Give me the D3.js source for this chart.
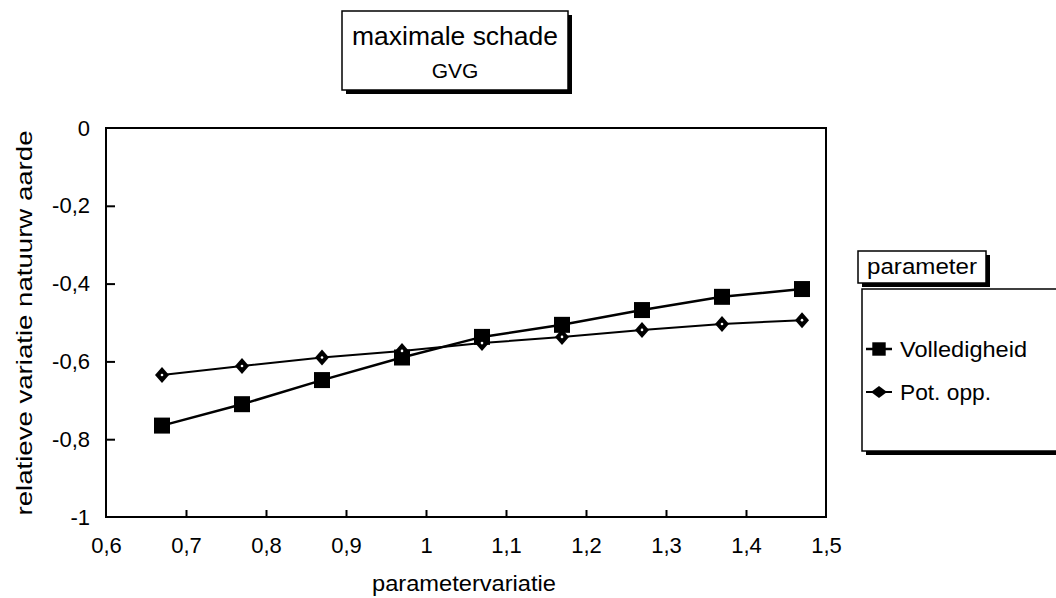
<!DOCTYPE html>
<html><head><meta charset="utf-8">
<script src="https://cdn.jsdelivr.net/npm/d3@7"></script>
<style>body{margin:0;background:#fff;} svg{display:block;font-family:"Liberation Sans",Arial,sans-serif;}</style>
</head><body>
<svg id="c" width="1056" height="598"></svg>
<script>
const xValues = [0.67, 0.77, 0.87, 0.97, 1.07, 1.17, 1.27, 1.37, 1.47];
const volledigheid = [-0.765, -0.71, -0.648, -0.59, -0.537, -0.506, -0.468, -0.434, -0.414];
const potOpp = [-0.635, -0.612, -0.59, -0.573, -0.553, -0.537, -0.519, -0.504, -0.494];
const xTicks = [0.6, 0.7, 0.8, 0.9, 1.0, 1.1, 1.2, 1.3, 1.4, 1.5];
const yTicks = [0, -0.2, -0.4, -0.6, -0.8, -1];
const seriesNames = ["Volledigheid", "Pot. opp."];

const svg = d3.select("#c");
const L = 106, R = 826, T = 128, B = 517;
const x = d3.scaleLinear().domain([0.6, 1.5]).range([L, R]);
const y = d3.scaleLinear().domain([-1, 0]).range([B, T]);
const fmt = d => String(+d.toFixed(1)).replace(".", ",");

// frame
svg.append("rect").attr("x", L).attr("y", T).attr("width", R - L).attr("height", B - T)
  .attr("fill", "none").attr("stroke", "#000").attr("stroke-width", 2);

// axes
const xa = svg.append("g").attr("transform", `translate(0,${B})`)
  .call(d3.axisBottom(x).tickValues(xTicks).tickSizeInner(-7).tickSizeOuter(0).tickPadding(20).tickFormat(fmt));
const ya = svg.append("g").attr("transform", `translate(${L},0)`)
  .call(d3.axisLeft(y).tickValues(yTicks).tickSizeInner(-9).tickSizeOuter(0).tickPadding(16).tickFormat(fmt));
[xa, ya].forEach(a => {
  a.attr("font-size", null).attr("font-family", null);
  a.select(".domain").remove();
  a.selectAll("line").attr("stroke", "#000").attr("stroke-width", 2);
  a.selectAll("text").attr("fill", "#000").style("font-size", "22px")
    .style("font-family", "'Liberation Sans', Arial, sans-serif");
});
xa.selectAll("line").filter(d => d === 0.6 || d === 1.5).remove();
ya.selectAll("line").filter(d => d === 0 || d === -1).remove();

// axis titles
svg.append("text").attr("x", 464).attr("y", 591).attr("text-anchor", "middle")
  .style("font-size", "22px").attr("textLength", 184).attr("lengthAdjust", "spacingAndGlyphs").text("parametervariatie");
svg.append("text").attr("transform", "translate(32,323) rotate(-90)").attr("text-anchor", "middle")
  .style("font-size", "22px").attr("textLength", 385).attr("lengthAdjust", "spacingAndGlyphs").text("relatieve variatie natuurw aarde");

// lines
const line = d3.line().x((d, i) => x(xValues[i])).y(d => y(d));
svg.append("path").datum(potOpp).attr("d", line).attr("fill", "none").attr("stroke", "#000").attr("stroke-width", 2);
svg.append("path").datum(volledigheid).attr("d", line).attr("fill", "none").attr("stroke", "#000").attr("stroke-width", 2.5);

const sq = d3.symbol().type(d3.symbolSquare).size(256);
const dmPath = "M0,-8L7,0L0,8L-7,0Z";
svg.selectAll(".sq").data(volledigheid).enter().append("path")
  .attr("d", sq).attr("transform", (d, i) => `translate(${x(xValues[i])},${y(d)})`).attr("fill", "#000");
const dg = svg.selectAll(".dm").data(potOpp).enter().append("g")
  .attr("transform", (d, i) => `translate(${x(xValues[i])},${y(d)})`);
dg.append("path").attr("d", dmPath).attr("fill", "#000");
dg.append("circle").attr("r", 1.3).attr("fill", "#fff");

// boxes with shadow
function box(x0, y0, w, h) {
  svg.append("rect").attr("x", x0 + 4).attr("y", y0 + 4).attr("width", w).attr("height", h).attr("fill", "#000");
  svg.append("rect").attr("x", x0).attr("y", y0).attr("width", w).attr("height", h)
    .attr("fill", "#fff").attr("stroke", "#000").attr("stroke-width", 1.5);
}
box(342, 11, 226, 79);
svg.append("text").attr("x", 455).attr("y", 45).attr("text-anchor", "middle").style("font-size", "25px")
  .attr("textLength", 206).attr("lengthAdjust", "spacingAndGlyphs").text("maximale schade");
svg.append("text").attr("x", 455).attr("y", 78).attr("text-anchor", "middle").style("font-size", "21px").text("GVG");

// legend
box(858, 251, 128, 32);
svg.append("text").attr("x", 922).attr("y", 274).attr("text-anchor", "middle").style("font-size", "22px")
  .attr("textLength", 110).attr("lengthAdjust", "spacingAndGlyphs").text("parameter");
box(862, 289, 200, 162);
const legY = [349, 392];
svg.append("line").attr("x1", 866).attr("x2", 892).attr("y1", legY[0]).attr("y2", legY[0]).attr("stroke", "#000").attr("stroke-width", 2.5);
svg.append("path").attr("d", d3.symbol().type(d3.symbolSquare).size(180)).attr("transform", `translate(879,${legY[0]})`).attr("fill", "#000");
svg.append("line").attr("x1", 866).attr("x2", 892).attr("y1", legY[1]).attr("y2", legY[1]).attr("stroke", "#000").attr("stroke-width", 2);
svg.append("path").attr("d", "M0,-6L8,0L0,6L-8,0Z").attr("transform", `translate(879,${legY[1]})`).attr("fill", "#000");
const legLen = [127, 91];
seriesNames.forEach((n, i) => svg.append("text").attr("x", 900).attr("y", legY[i] + 8).style("font-size", "22px")
  .attr("textLength", legLen[i]).attr("lengthAdjust", "spacingAndGlyphs").text(n));
</script>
</body></html>
